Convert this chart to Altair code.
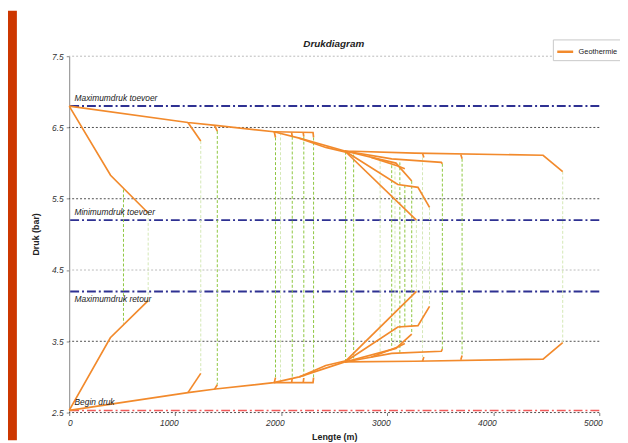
import altair as alt
import pandas as pd

ORANGE = "#F28A2C"
FONT = "Liberation Sans"

chart_title = ["Drukdiagram"]

# ---- supply (toevoer) polylines: (length m, pressure bar)
sup_trunk = [(0, 6.80), (1120, 6.57), (1380, 6.53), (1930, 6.44), (2170, 6.35), (2600, 6.17),
             (3260, 6.14), (4470, 6.11), (4655, 5.88)]
sup_left = [(0, 6.80), (390, 5.83), (745, 5.30)]
sup_b1 = [(1120, 6.57), (1241, 6.31)]
sup_b2 = [(1370, 6.53), (1397, 6.45)]
sup_h = [(1930, 6.44), (2300, 6.43), (2305, 6.36)]
sup_s1 = [(1934, 6.44), (1946, 6.36)]
sup_s2 = [(2098, 6.43), (2104, 6.37)]
sup_s3 = [(2207, 6.43), (2213, 6.37)]
sup_par = [(2170, 6.35), (2420, 6.22), (2620, 6.15)]
sup_A = [(2600, 6.17), (3275, 5.20)]
sup_B = [(2600, 6.17), (3100, 5.70), (3290, 5.66), (3399, 5.38)]
sup_C = [(2600, 6.17), (3082, 6.00), (3231, 5.75)]
sup_D = [(2600, 6.17), (3042, 6.06), (3510, 6.01), (3520, 5.99)]
sup_E = [(2850, 6.08), (3100, 5.96), (3166, 5.92)]
sup_s4 = [(3333, 6.14), (3345, 6.08)]
sup_s5 = [(3694, 6.12), (3706, 6.06)]

# ---- return (retour) polylines
ret_trunk = [(0, 2.53), (1120, 2.78), (1380, 2.83), (1930, 2.92), (2170, 3.00), (2600, 3.21),
             (3260, 3.22), (4470, 3.25), (4655, 3.48)]
ret_left = [(0, 2.53), (388, 3.55), (745, 4.07)]
ret_b1 = [(1120, 2.78), (1241, 3.05)]
ret_b2 = [(1370, 2.825), (1397, 2.89)]
ret_h = [(1930, 2.92), (2300, 2.92), (2305, 2.99)]
ret_s1 = [(1934, 2.92), (1946, 2.99)]
ret_s2 = [(2098, 2.92), (2104, 2.985)]
ret_s3 = [(2207, 2.92), (2213, 2.985)]
ret_par = [(2170, 3.00), (2420, 3.16), (2620, 3.23)]
ret_A = [(2600, 3.21), (3275, 4.20)]
ret_B = [(2600, 3.21), (3100, 3.70), (3290, 3.72), (3399, 3.99)]
ret_C = [(2600, 3.21), (3082, 3.40), (3231, 3.60)]
ret_D = [(2600, 3.21), (3042, 3.33), (3510, 3.36), (3520, 3.39)]
ret_E = [(2850, 3.28), (3100, 3.42), (3166, 3.47)]
ret_s4 = [(3333, 3.22), (3345, 3.28)]
ret_s5 = [(3694, 3.24), (3706, 3.30)]

# ---- consumers (green verticals)
cons_x = [512, 745, 1241, 1397, 1946, 1993, 2104, 2213, 2305, 2607, 2683, 2933, 3042, 3073,
          3119, 3166, 3231, 3275, 3333, 3399, 3520, 3706, 4655]
cons_sup = [5.63, 5.30, 6.31, 6.45, 6.36, 6.43, 6.37, 6.37, 6.36, 6.16, 6.12, 6.03, 5.97, 5.95,
            6.01, 5.69, 5.75, 5.20, 6.08, 5.38, 5.99, 6.06, 5.88]
cons_ret = [3.75, 4.07, 3.05, 2.89, 2.99, 2.92, 2.985, 2.985, 2.99, 3.22, 3.26, 3.32, 3.42, 3.44,
            3.34, 3.68, 3.60, 4.20, 3.28, 3.99, 3.39, 3.30, 3.48]
cons_shade = ["dark", "light", "light", "dark", "dark", "light", "dark", "dark", "dark", "dark",
              "dark", "light", "dark", "light", "dark", "dark", "dark", "light", "light", "light",
              "dark", "dark", "light"]

# ---- reference lines
ref_names = ["Maximumdruk toevoer", "Minimumdruk toevoer", "Maximumdruk retour", "Begin druk"]
ref_values = [6.8, 5.2, 4.2, 2.53]
ref_kind = ["max", "max", "max", "begin"]
ref_label_pos = ["above", "above", "below", "above"]
ref_label_x = [50, 50, 50, 50]

grid_dark = [6.5, 5.5, 3.5, 2.5]
grid_light = [7.5, 4.5]
x_ticks = [0, 1000, 2000, 3000, 4000, 5000]
y_ticks = [2.5, 3.5, 4.5, 5.5, 6.5, 7.5]

segments = [sup_trunk, sup_left, sup_b1, sup_b2, sup_h, sup_s1, sup_s2, sup_s3, sup_par,
            sup_A, sup_B, sup_C, sup_D, sup_E, sup_s4, sup_s5,
            ret_trunk, ret_left, ret_b1, ret_b2, ret_h, ret_s1, ret_s2, ret_s3, ret_par,
            ret_A, ret_B, ret_C, ret_D, ret_E, ret_s4, ret_s5]
rows = []
for si, seg in enumerate(segments):
    for i, (xv, yv) in enumerate(seg):
        rows.append({"seg": si, "i": i, "x": xv, "y": yv, "net": "Geothermie"})
net_df = pd.DataFrame(rows)

cons_df = pd.DataFrame({"x": cons_x, "y": cons_sup, "y2": cons_ret, "shade": cons_shade})
ref_df = pd.DataFrame({"name": ref_names, "y": ref_values, "kind": ref_kind,
                       "pos": ref_label_pos, "x": ref_label_x})
gd_df = pd.DataFrame({"y": grid_dark})
gl_df = pd.DataFrame({"y": grid_light})

x_scale = alt.Scale(domain=[0, 5000], nice=False)
y_scale = alt.Scale(domain=[2.5, 7.5], nice=False, zero=False)

x_enc = alt.X("x:Q", scale=x_scale, axis=alt.Axis(
    values=x_ticks, format="d", labelAlign="right", labelOffset=3, labelFont=FONT,
    labelFontStyle="italic", labelFontSize=8.5, labelColor="#333", domain=False, grid=False,
    tickSize=3, tickColor="#777", labelPadding=3, title="Lengte (m)", titleFont=FONT,
    titleFontSize=9, titleFontWeight="bold", titleColor="#222", titlePadding=6))
y_enc = alt.Y("y:Q", scale=y_scale, axis=alt.Axis(
    values=y_ticks, format=".1f", labelFont=FONT, labelFontStyle="italic", labelFontSize=8.5,
    labelColor="#333", grid=False, domainColor="#888", tickSize=3, tickColor="#888",
    labelPadding=3, title="Druk (bar)", titleFont=FONT, titleFontSize=9, titleFontWeight="bold",
    titleColor="#222", titleX=-34, titleY=180, titleAlign="center", titleBaseline="middle"))

border = alt.Chart(pd.DataFrame({"a": [0]})).mark_rect(color="#CD3700").encode(
    x=alt.value(-62), x2=alt.value(-53), y=alt.value(-46), y2=alt.value(389))

title_txt = alt.Chart(pd.DataFrame({"t": chart_title})).mark_text(
    font=FONT, fontSize=10, fontStyle="italic", fontWeight="bold", color="#222",
    align="center", baseline="alphabetic").encode(
    x=alt.value(268), y=alt.value(-9), text="t:N")

grid_d = alt.Chart(gd_df).mark_rule(color="#222", strokeDash=[2, 2], strokeWidth=0.8).encode(y=y_enc)
grid_l = alt.Chart(gl_df).mark_rule(color="#aaa", strokeDash=[2, 2], strokeWidth=0.8).encode(y=y_enc)

ref_max = alt.Chart(ref_df).transform_filter("datum.kind == 'max'").mark_rule(
    color="#2E3192", strokeWidth=2, strokeDash=[9, 3, 2, 3]).encode(y=y_enc)
ref_begin = alt.Chart(ref_df).transform_filter("datum.kind == 'begin'").mark_rule(
    color="#F05A5A", strokeWidth=1.5, strokeDash=[9, 3, 2, 3]).encode(y=y_enc)

lbl_above = alt.Chart(ref_df).transform_filter("datum.pos == 'above'").mark_text(
    align="left", baseline="bottom", dy=-3, font=FONT, fontStyle="italic", fontSize=8.5,
    color="#222").encode(x=x_enc, y=y_enc, text="name:N")
lbl_below = alt.Chart(ref_df).transform_filter("datum.pos == 'below'").mark_text(
    align="left", baseline="top", dy=4, font=FONT, fontStyle="italic", fontSize=8.5,
    color="#222").encode(x=x_enc, y=y_enc, text="name:N")

green_d = alt.Chart(cons_df).transform_filter("datum.shade == 'dark'").mark_rule(
    color="#8DC63F", strokeDash=[3, 2], strokeWidth=1).encode(x=x_enc, y=y_enc, y2="y2:Q")
green_l = alt.Chart(cons_df).transform_filter("datum.shade == 'light'").mark_rule(
    color="#D3E8B5", strokeDash=[3, 2], strokeWidth=1).encode(x=x_enc, y=y_enc, y2="y2:Q")

lines = alt.Chart(net_df).mark_line(strokeWidth=1.7).encode(
    x=x_enc, y=y_enc, detail="seg:N", order="i:Q",
    color=alt.Color("net:N", scale=alt.Scale(domain=["Geothermie"], range=[ORANGE]),
                    legend=alt.Legend(title=None, orient="none", legendX=490, legendY=-17,
                                      symbolType="stroke", symbolStrokeWidth=2.5,
                                      symbolSize=260, labelFont=FONT, labelFontSize=7.5,
                                      labelColor="#222", strokeColor="#c8c8c8", padding=3,
                                      fillColor="white")))

chart = alt.layer(border, grid_l, grid_d, ref_max, ref_begin, green_l, green_d, lines,
                  lbl_above, lbl_below, title_txt).properties(
    width=537, height=361,
    autosize=alt.AutoSizeParams(type="none"),
    padding={"left": 62, "top": 46, "right": 21, "bottom": 28},
    background="white",
).configure_view(stroke=None)

chart.save("out.html", embed_options={"renderer": "svg", "actions": False})
